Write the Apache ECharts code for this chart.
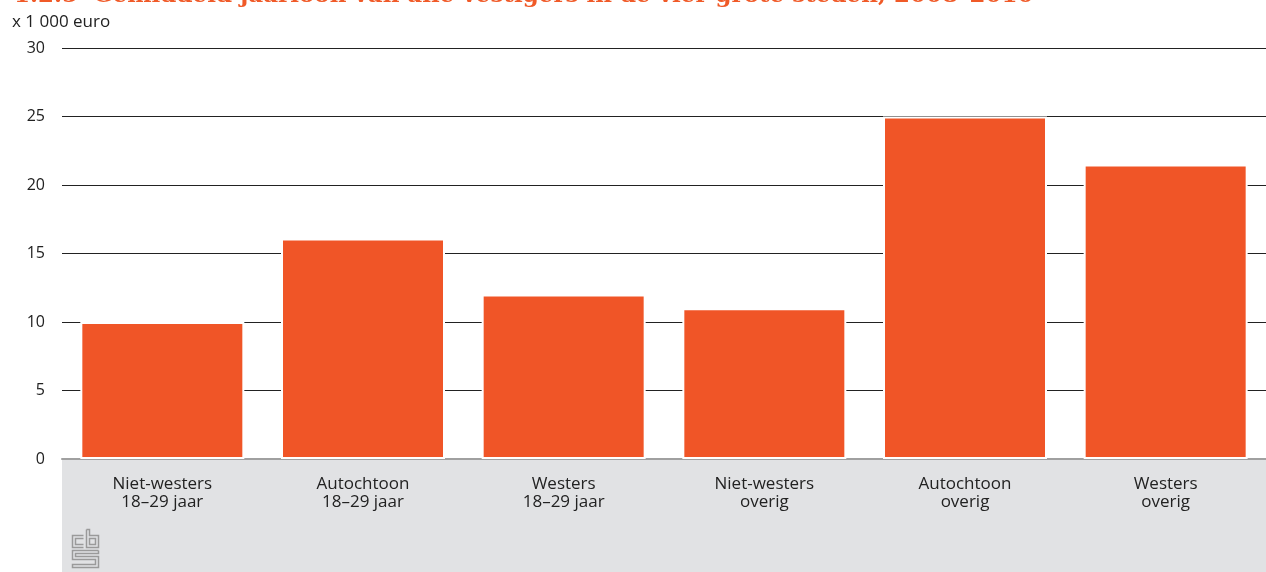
<!DOCTYPE html>
<html><head><meta charset="utf-8">
<script src="https://cdn.jsdelivr.net/npm/echarts@6/dist/echarts.min.js"></script>
<style>html,body{margin:0;padding:0;background:#fff}#c{width:1266px;height:572px}</style>
</head><body><div id="c"></div>
<script>
const categories = ['Niet-westers\n18–29 jaar','Autochtoon\n18–29 jaar','Westers\n18–29 jaar','Niet-westers\noverig','Autochtoon\noverig','Westers\noverig'];
const values = [10, 16.1, 12, 11, 25, 21.5];
const titleNum = '1.2.5';
const titleText = 'Gemiddeld jaarloon van alle vestigers in de vier grote steden, 2008–2010';
const unitLabel = 'x 1 000 euro';

const chart = echarts.init(document.getElementById('c'));
const logoColor = '#9a9a9a';
chart.setOption({
  animation: false,
  grid: {left: 62, right: 0, top: 48, bottom: 113, containLabel: false},
  xAxis: {
    type: 'category', data: categories,
    axisLine: {show: true, lineStyle: {color: '#a0a0a0', width: 2}},
    axisTick: {show: false},
    axisLabel: {color: '#222', fontFamily: 'Open Sans', fontSize: 17, lineHeight: 18, margin: 16}
  },
  yAxis: {
    type: 'value', min: 0, max: 30, interval: 5,
    axisLine: {show: false}, axisTick: {show: false},
    axisLabel: {color: '#222', fontFamily: 'Open Sans', fontSize: 16, margin: 17},
    splitLine: {lineStyle: {color: '#222', width: 1.2}}
  },
  series: [{
    type: 'bar', data: values, barWidth: 164,
    itemStyle: {color: '#f05527', borderColor: '#fff', borderWidth: 2},
    z: 3
  }],
  graphic: [
    {type: 'rect', z: -10, silent: true, shape: {x: 62, y: 459, width: 1204, height: 113}, style: {fill: '#e1e2e4'}},
    {type: 'text', left: 14, top: -15, style: {text: titleNum, fill: '#f05a28', font: 'bold 23px "DejaVu Serif"'}},
    {type: 'text', left: 93, top: -15, style: {text: titleText, fill: '#f05a28', font: 'bold 23px "DejaVu Serif"'}},
    {type: 'text', left: 12, top: 14, style: {text: unitLabel, fill: '#222', font: '17px "Open Sans"'}},
    {type: 'group', left: 70, top: 527, children: [
      {type: 'polyline', shape: {points: [[12,6],[1,6],[1,18],[12,18]]}, style: {stroke: logoColor, lineWidth: 1.5, fill: null}},
      {type: 'polyline', shape: {points: [[12,9],[4,9],[4,15],[12,15]]}, style: {stroke: logoColor, lineWidth: 1.5, fill: null}},
      {type: 'polyline', shape: {points: [[15,0],[15,18],[27,18],[27,6],[18,6],[18,0],[15,0]]}, style: {stroke: logoColor, lineWidth: 1.5, fill: null}},
      {type: 'rect', shape: {x: 18, y: 9, width: 6, height: 6}, style: {stroke: logoColor, lineWidth: 1.5, fill: null}},
      {type: 'polyline', shape: {points: [[27,21],[1,21],[1,30],[24,30],[24,35],[1,35],[1,38],[27,38],[27,27],[4,27],[4,24],[27,24],[27,21]]}, style: {stroke: logoColor, lineWidth: 1.5, fill: null}}
    ]}
  ]
});
</script></body></html>
